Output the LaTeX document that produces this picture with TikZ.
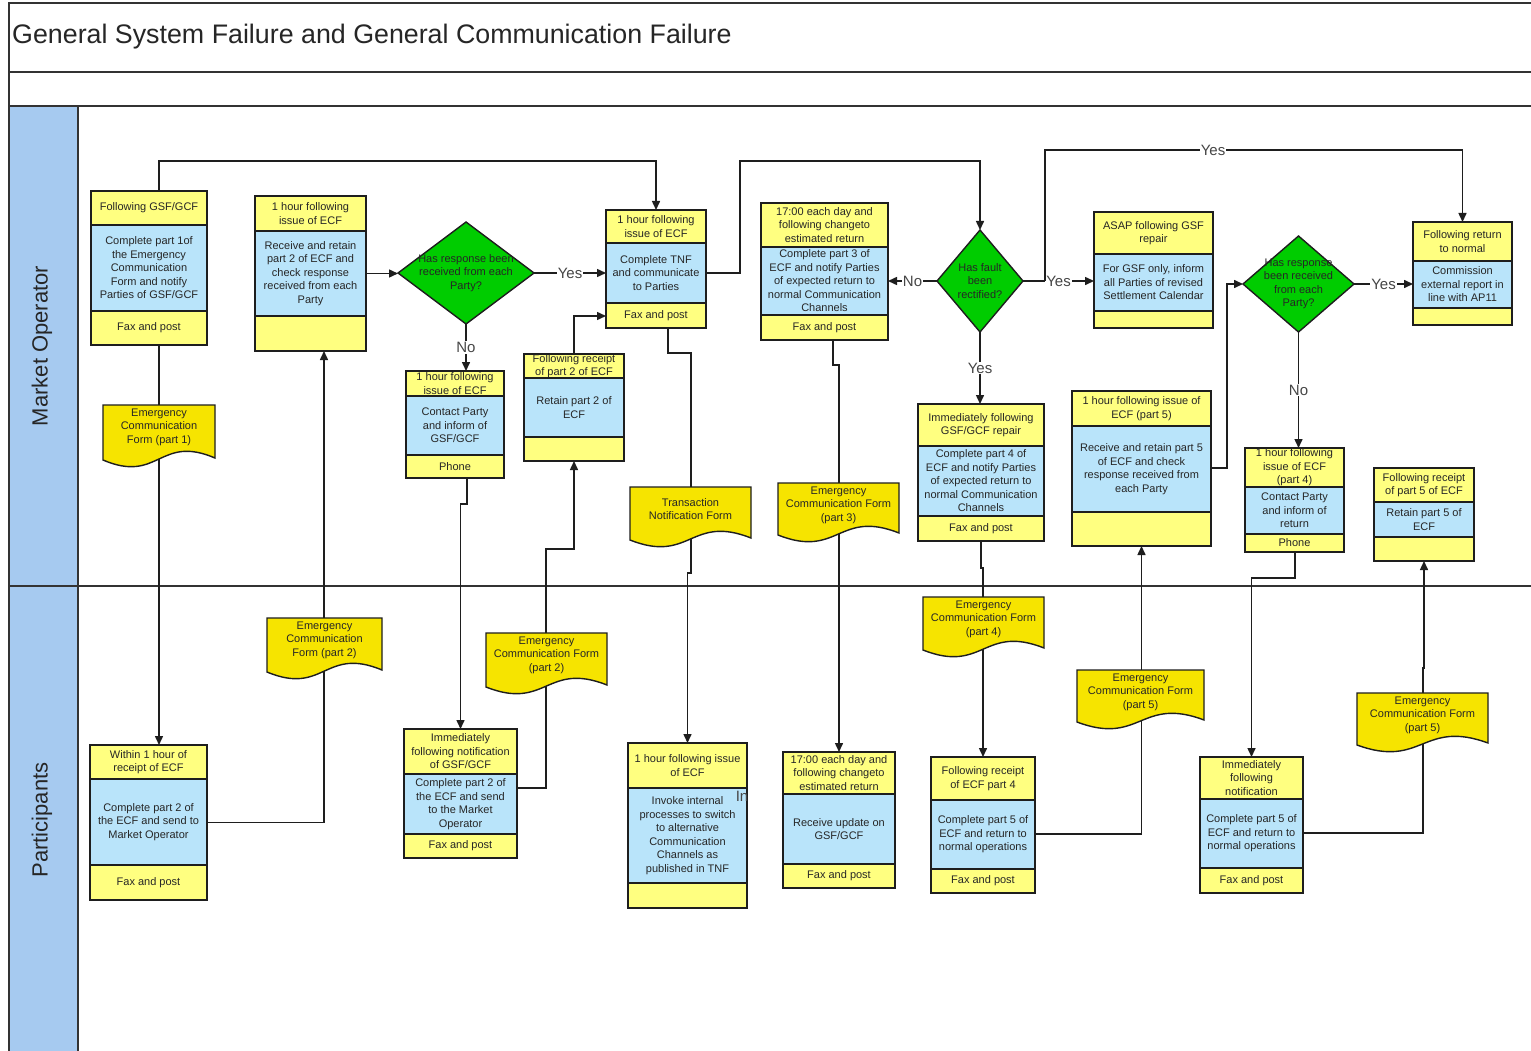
\documentclass[tikz,border=0pt]{standalone}
\usepackage{fontspec}
\setmainfont{Liberation Sans}
\usetikzlibrary{shapes.geometric,arrows.meta}
\pgfdeclarelayer{back}
\pgfdeclarelayer{lines}
\pgfsetlayers{back,lines,main}
\definecolor{hdrc}{RGB}{255,255,128}
\definecolor{bdyc}{RGB}{185,228,250}
\definecolor{docc}{RGB}{246,228,0}
\definecolor{dgreen}{RGB}{0,204,0}
\definecolor{lanec}{RGB}{166,202,240}
\definecolor{linec}{RGB}{30,30,30}
\definecolor{labc}{RGB}{70,70,70}
\tikzset{
 txt/.style={font=\fontsize{11}{13.5}\selectfont, align=center, inner sep=0pt, text=black!85},
 boxframe/.style={draw=linec, line width=1.4pt, inner sep=0pt, outer sep=0pt},
 divline/.style={draw=linec, line width=1.4pt},
 conn/.style={draw=linec, line width=1.5pt},
 arr/.style={conn, -{Triangle[length=9pt,width=8pt]}},
 lab/.style={font=\fontsize{15}{16}\selectfont, text=labc, fill=white, inner sep=1pt},
 dia/.style={diamond, draw=linec, fill=dgreen, line width=1.4pt, inner sep=0pt, outer sep=0pt},
 docst/.style={fill=docc, draw=linec, line width=1.4pt},
 frameline/.style={draw=black!80, line width=1.4pt},
}
% #1 name #2 left #3 top #4 right #5 header bottom #6 body bottom #7 bottom #8 header #9 body
\newcommand\procbox[9]{%
  \fill[hdrc] (#2,#3) rectangle (#4,#5);
  \fill[bdyc] (#2,#5) rectangle (#4,#6);
  \fill[hdrc] (#2,#6) rectangle (#4,#7);
  \draw[divline] (#2,#5) -- (#4,#5) (#2,#6) -- (#4,#6);
  \node[boxframe, minimum width={(#4-#2)*1pt}, minimum height={(#7-#3)*1pt}, anchor=north west] (#1) at (#2,#3) {};
  \node[txt] (#1-h) at ({(#2+#4)/2},{(#3+#5)/2}) {#8};
  \node[txt] (#1-b) at ({(#2+#4)/2},{(#5+#6)/2}) {#9};
  \coordinate (#1-fc) at ({(#2+#4)/2},{(#6+#7)/2});
}
% #1 name #2 cx #3 cy #4 w #5 h #6 text
\newcommand\decision[6]{%
  \node[dia, minimum width={#4*1pt}, minimum height={#5*1pt}] (#1) at (#2,#3) {};
  \node[txt] (#1-t) at (#2,#3) {#6};
}
% #1 name #2 left #3 top #4 right #5 bottom #6 text
\newcommand\docform[6]{%
  \filldraw[docst] (#2,#3) -- (#4,#3) -- ({#4},{#5-2}) .. controls ({(#2+#4)/2},{#5-26}) and ({(#2+#4)/2},{#5+24}) .. (#2,#5) -- cycle;
  \node[txt] (#1) at ({(#2+#4)/2},{#3+22}) {#6};
}
\begin{document}
\begin{tikzpicture}[x=1pt,y=-1pt]
\useasboundingbox (0,0) rectangle (1531,1051);
\begin{pgfonlayer}{back}
\fill[white] (0,0) rectangle (1531,1051);
\filldraw[fill=lanec, draw=black!80, line width=1.4pt] (9,106) rectangle (78,1060);
\draw[frameline] (1535,3) -- (9,3) -- (9,1060);
\draw[frameline] (9,72) -- (1535,72) (9,106) -- (1535,106) (9,586) -- (1535,586);
\end{pgfonlayer}

\node[anchor=west, font=\fontsize{26.8}{28}\selectfont, inner sep=0pt, text=black!85] (title) at (12,37) {General System Failure and General Communication Failure};
\node[rotate=90, font=\fontsize{22}{24}\selectfont, text=black!85] (lane1) at (42,346) {Market Operator};
\node[rotate=90, font=\fontsize{22}{24}\selectfont, text=black!85] (lane2) at (42,820) {Participants};

% Market Operator lane
\procbox{A}{91}{191}{207}{225}{311}{345}{Following GSF/GCF}{Complete part 1of\\the Emergency\\Communication\\Form and notify\\Parties of GSF/GCF}
\node[txt] (A-f) at (A-fc) {Fax and post};
\procbox{B}{255}{196}{366}{231}{316}{351}{1 hour following\\issue of ECF}{Receive and retain\\part 2 of ECF and\\check response\\received from each\\Party}
\decision{D1}{466}{273}{136}{102}{Has response been\\received from each\\Party?}
\procbox{C}{606}{210}{706}{243}{303}{328}{1 hour following\\issue of ECF}{Complete TNF\\and communicate\\to Parties}
\node[txt] (C-f) at (C-fc) {Fax and post};
\procbox{D}{406}{371}{504}{396}{455}{478}{1 hour following\\issue of ECF}{Contact Party\\and inform of\\GSF/GCF}
\node[txt] (D-f) at (D-fc) {Phone};
\procbox{E}{524}{354}{624}{378}{437}{461}{Following receipt\\of part 2 of ECF}{Retain part 2 of\\ECF}
\procbox{F}{761}{203}{888}{247}{315}{340}{17:00 each day and\\following changeto\\estimated return}{Complete part 3 of\\ECF and notify Parties\\of expected return to\\normal Communication\\Channels}
\node[txt] (F-f) at (F-fc) {Fax and post};
\decision{D2}{980}{281}{86}{102}{Has fault\\been\\rectified?}
\procbox{G}{1094}{212}{1213}{254}{311}{328}{ASAP following GSF\\repair}{For GSF only, inform\\all Parties of revised\\Settlement Calendar}
\decision{D3}{1298.5}{284}{111}{96}{Has response\\been received\\from each\\Party?}
\procbox{J}{1413}{222}{1512}{261}{308}{325}{Following return\\to normal}{Commission\\external report in\\line with AP11}
\procbox{H}{918}{404}{1044}{446}{516}{541}{Immediately following\\GSF/GCF repair}{Complete part 4 of\\ECF and notify Parties\\of expected return to\\normal Communication\\Channels}
\node[txt] (H-f) at (H-fc) {Fax and post};
\procbox{K}{1072}{391}{1211}{426}{512}{546}{1 hour following issue of\\ECF (part 5)}{Receive and retain part 5\\of ECF and check\\response received from\\each Party}
\procbox{L}{1245}{448}{1344}{487}{534}{552}{1 hour following\\issue of ECF\\(part 4)}{Contact Party\\and inform of\\return}
\node[txt] (L-f) at (L-fc) {Phone};
\procbox{M}{1374}{468}{1474}{502}{537}{561}{Following receipt\\of part 5 of ECF}{Retain part 5 of\\ECF}

% Participants lane
\procbox{P1}{90}{745}{207}{779}{865}{900}{Within 1 hour of\\receipt of ECF}{Complete part 2 of\\the ECF and send to\\Market Operator}
\node[txt] (P1-f) at (P1-fc) {Fax and post};
\procbox{P2}{404}{729}{517}{774}{834}{858}{Immediately\\following notification\\of GSF/GCF}{Complete part 2 of\\the ECF and send\\to the Market\\Operator}
\node[txt] (P2-f) at (P2-fc) {Fax and post};
\procbox{P3}{628}{743}{747}{788}{883}{908}{1 hour following issue\\of ECF}{Invoke internal\\processes to switch\\to alternative\\Communication\\Channels as\\published in TNF}
\procbox{P4}{783}{752}{895}{794}{864}{888}{17:00 each day and\\following changeto\\estimated return}{Receive update on\\GSF/GCF}
\node[txt] (P4-f) at (P4-fc) {Fax and post};
\procbox{P5}{931}{757}{1035}{800}{869}{893}{Following receipt\\of ECF part 4}{Complete part 5 of\\ECF and return to\\normal operations}
\node[txt] (P5-f) at (P5-fc) {Fax and post};
\procbox{P6}{1200}{757}{1303}{799}{868}{893}{Immediately\\following\\notification}{Complete part 5 of\\ECF and return to\\normal operations}
\node[txt] (P6-f) at (P6-fc) {Fax and post};
\node[font=\fontsize{15}{16}\selectfont, text=labc, inner sep=0pt] (stray) at (742,796) {In};

% Documents
\docform{doc1}{103}{405}{215}{460}{Emergency\\Communication\\Form (part 1)}
\docform{doc2}{267}{618}{382}{672}{Emergency\\Communication\\Form (part 2)}
\docform{doc3}{486}{633}{607}{687}{Emergency\\Communication Form\\(part 2)}
\docform{doc4}{630}{487}{751}{540}{Transaction\\Notification Form}
\docform{doc5}{778}{483}{899}{535}{Emergency\\Communication Form\\(part 3)}
\docform{doc6}{923}{597}{1044}{650}{Emergency\\Communication Form\\(part 4)}
\docform{doc7}{1077}{670}{1204}{722}{Emergency\\Communication Form\\(part 5)}
\docform{doc8}{1357}{693}{1488}{745}{Emergency\\Communication Form\\(part 5)}

% Connectors
\begin{pgfonlayer}{lines}
\draw[arr] (A.north -| 159,0) |- (C.north |- 0,161) -- (C.north);
\draw[arr] (A.south -| 159,0) -- (P1.north -| 159,0);
\draw[arr] (P1.east) -| (B.south -| 324,0);
\draw[arr] (B.east) -- (B.east -| D1.west);
\draw[arr] (D1.east) -- (D1.east -| C.west) node[lab,midway] (yes1) {Yes};
\draw[arr] (D1.south) -- (D1.south |- D.north) node[lab,midway] (no1) {No};
\draw[arr] (D.south -| 467,0) -- (467,504) -| (P2.north);
\draw[arr] (P2.east |- 0,788) -| (546,549) -| (E.south);
\draw[arr] (E.north) |- (C.west |- 0,316);
\draw[arr] (C.east |- 0,273) -| (740,161) -| (D2.north);
\draw[arr] (C.south -| 668,0) -- (668,353) -| (691,573) -| (P3.north);
\draw[arr] (D2.west) -- (D2.west -| F.east) node[lab,midway] (no2) {No};
\draw[arr] (F.south -| 833,0) -- (833,365) -| (P4.north);
\draw[arr] (D2.east) -- (D2.east -| G.west) node[lab,midway] (yes2) {Yes};
\coordinate (split) at (1045,281);
\draw[arr] (split) |- (J.north |- 0,150) -- (J.north);
\node[lab] (yes3) at (1213,150) {Yes};
\draw[arr] (D2.south) -- (D2.south |- H.north) node[lab,midway] (yes4) {Yes};
\draw[arr] (H.south) -- (H.south |- 0,568) -| (P5.north);
\draw[arr] (P5.east |- 0,834) -| (K.south);
\draw[arr] (K.east |- 0,468) -| (1227,284) -- (D3.west);
\draw[arr] (D3.east) -- (D3.east -| J.west) node[lab,midway] (yes5) {Yes};
\draw[arr] (D3.south) -- (D3.south |- L.north) node[lab,midway] (no3) {No};
\draw[arr] (L.south -| 1295,0) -- (1295,578) -| (P6.north);
\draw[arr] (P6.east |- 0,833) -| (1423,668) -| (M.south);
\end{pgfonlayer}
\end{tikzpicture}
\end{document}
